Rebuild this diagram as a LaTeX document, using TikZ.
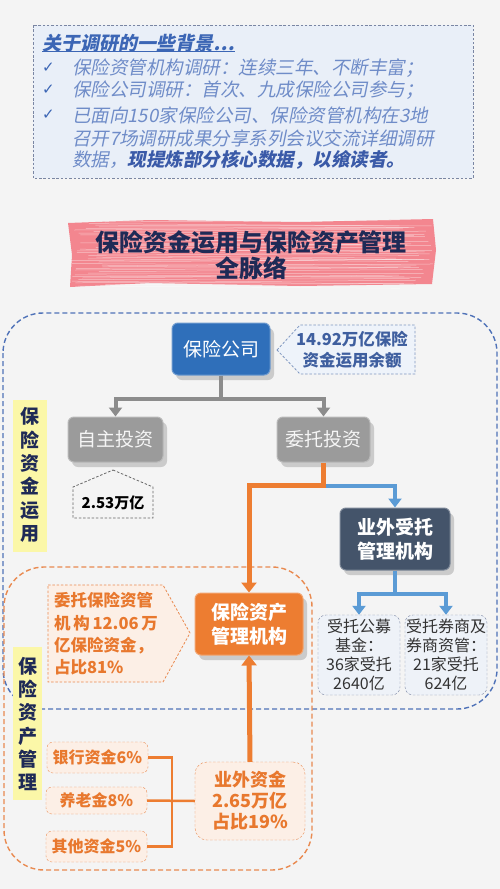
\documentclass[tikz,border=0pt]{standalone}
\usepackage{fontspec}
\setmainfont{Noto Sans CJK SC}
\newfontfamily\cjkit[FakeSlant=0.2]{Noto Sans CJK SC}
\newfontfamily\symf{DejaVu Sans}
\usetikzlibrary{arrows.meta,shadows,calc}
\definecolor{bgc}{HTML}{F4F4F4}
\definecolor{topfill}{HTML}{E9EFF8}
\definecolor{topline}{HTML}{7A86A3}
\definecolor{headc}{HTML}{3C66B5}
\definecolor{bodyc}{HTML}{6F8CC8}
\definecolor{boldc}{HTML}{3A5AA8}
\definecolor{pinkc}{HTML}{F3868F}
\definecolor{navy}{HTML}{1F2A56}
\definecolor{bluedashc}{HTML}{4F72B8}
\definecolor{orangedashc}{HTML}{E98A50}
\definecolor{yellowc}{HTML}{FBF7A8}
\definecolor{gsblue}{HTML}{2F6FBA}
\definecolor{graynode}{HTML}{9B9B9B}
\definecolor{slate}{HTML}{44546A}
\definecolor{orangec}{HTML}{ED7D31}
\definecolor{peach}{HTML}{FCEFE6}
\definecolor{orangetxt}{HTML}{E8782E}
\definecolor{blueline}{HTML}{5B9BD5}
\definecolor{grayline}{HTML}{8C8C8C}
\definecolor{calloutfill}{HTML}{EEF3FA}
\definecolor{calloutline}{HTML}{7F97C0}
\definecolor{calltxt}{HTML}{3F5F9F}
\definecolor{smallfill}{HTML}{EEF2F8}
\begin{document}
\begin{tikzpicture}[x=1pt,y=-1pt,
  bodytxt/.style={anchor=west,inner sep=0pt,text=bodyc,font=\cjkit\fontsize{18.5}{20}\selectfont},
  chk/.style={anchor=west,inner sep=0pt,text=headc,font=\symf\bfseries\fontsize{15}{16}\selectfont},
  mainbox/.style={rounded corners=6pt,inner sep=0pt,align=center,
    drop shadow={opacity=0.35,shadow xshift=4pt,shadow yshift=-5pt}},
  graybox/.style={mainbox,fill=graynode,draw=graynode!70!white,line width=1pt,text=white!92!gray,font=\fontsize{19}{22}\selectfont,minimum width=95pt,minimum height=45pt},
  fdash/.style={dash pattern=on 2.5pt off 1.8pt},
  smallbox/.style={rounded corners=8pt,draw=topline,fdash,fill=smallfill,inner sep=0pt,align=center,text=black!80,font=\fontsize{16}{19}\selectfont,minimum width=82pt,minimum height=80pt},
  peachbox/.style={rounded corners=6pt,draw=orangedashc,fdash,fill=peach,inner sep=0pt,align=center,text=orangetxt,font=\bfseries\fontsize{16}{19}\selectfont},
  bigdash/.style={dash pattern=on 5pt off 3pt,line width=1.4pt,rounded corners=40pt},
  gline/.style={draw=grayline,line width=4pt,-{Triangle[length=9pt,width=13pt]}},
  oline/.style={draw=orangec,line width=5pt,-{Triangle[length=10pt,width=15pt]}},
  bline/.style={draw=blueline,line width=4pt,-{Triangle[length=9pt,width=13pt]}},
  thinol/.style={draw=orangec,line width=2.5pt}
]
\fill[bgc] (0,0) rectangle (500,889);
\useasboundingbox (0,0) rectangle (500,889);

% ---------- top box
\draw[topline,fdash,fill=topfill,line width=0.8pt] (33,25) rectangle (473,178);
\node[anchor=west,inner sep=0pt,text=headc,font=\cjkit\bfseries\fontsize{19}{20}\selectfont] (hd) at (42,43) {关于调研的一些背景…};
\draw[headc,line width=0.8pt] ($(hd.south west)+(0,-1)$) -- ($(hd.south east)+(0,-1)$);
\node[chk] (k1) at (42,68) {✓};
\node[chk] (k2) at (42,90) {✓};
\node[chk] (k3) at (42,115) {✓};
\node[bodytxt] (l1) at (72,68) {保险资管机构调研：连续三年、不断丰富；};
\node[bodytxt] (l2) at (72,90) {保险公司调研：首次、九成保险公司参与；};
\node[bodytxt] (l3) at (72,115) {已面向150家保险公司、保险资管机构在3地};
\node[bodytxt] (l4) at (72,138) {召开7场调研成果分享系列会议交流详细调研};
\node[bodytxt] (l5) at (72,160) {数据，\textcolor{boldc}{\bfseries 现提炼部分核心数据，以飨读者。}};

% ---------- title band
\fill[pinkc] (68,223) -- (150,220) -- (300,222) -- (433,219) -- (436,250) -- (432,284) -- (300,286) -- (150,283) -- (70,287) -- (72,255) -- cycle;
\pgfmathsetseed{7}
\foreach \i in {0,...,40}{
  \pgfmathsetmacro\ya{222+\i*1.6}
  \pgfmathsetmacro\xa{70+rnd*40}
  \pgfmathsetmacro\xb{395+rnd*38}
  \pgfmathsetmacro\yb{\ya+rnd*6-3}
  \draw[white,opacity=0.5,line width=0.5pt] (\xa,\ya) -- (\xb,\yb);
}
\node[inner sep=0pt,align=center,text=navy,font=\bfseries\fontsize{24}{26}\selectfont] (ttl) at (251,255) {保险资金运用与保险资产管理\\全脉络};

% ---------- dashed regions
\draw[bluedashc,bigdash] (3,313) rectangle (497,709);
\draw[orangedashc,bigdash] (4,567) rectangle (312,870);

% ---------- yellow labels
\fill[yellowc] (13,400) rectangle (47,552);
\node[inner sep=0pt,align=center,text=navy,font=\bfseries\fontsize{19}{23.4}\selectfont] (ya) at (30,475) {保\\险\\资\\金\\运\\用};
\fill[yellowc] (13,647) rectangle (42,800);
\node[inner sep=0pt,align=center,text=navy,font=\bfseries\fontsize{19}{23.2}\selectfont] (yb) at (27.5,724) {保\\险\\资\\产\\管\\理};

% ---------- main nodes
\node[mainbox,fill=gsblue,draw=gsblue!70!white,line width=1pt,text=white,font=\fontsize{19}{22}\selectfont,minimum width=98pt,minimum height=52pt] (gs) at (221,349) {保险公司};
\node[graybox] (zz) at (115.5,439.5) {自主投资};
\node[graybox,minimum width=93pt] (wt) at (323.5,439.5) {委托投资};
\node[mainbox,fill=slate,draw=slate!70!white,line width=1pt,text=white,font=\bfseries\fontsize{19}{24}\selectfont,minimum width=110pt,minimum height=62pt] (yw) at (395,539) {业外受托\\管理机构};
\node[mainbox,fill=orangec,draw=orangec!70!white,line width=1pt,text=white,font=\bfseries\fontsize{19}{24}\selectfont,minimum width=108pt,minimum height=62pt] (bx) at (249,624) {保险资产\\管理机构};
\node[smallbox] (gm) at (359,655) {受托公募\\基金：\\36家受托\\2640亿};
\node[smallbox] (qs) at (446,655) {受托券商及\\券商资管：\\21家受托\\624亿};
\node[peachbox,rounded corners=12pt,minimum width=110pt,minimum height=78pt,font=\bfseries\fontsize{18}{21}\selectfont] (yz) at (250,801) {业外资金\\2.65万亿\\占比19\%};
\node[peachbox,minimum width=101pt,minimum height=31pt] (yh) at (97.5,757.5) {银行资金6\%};
\node[peachbox,minimum width=101pt,minimum height=27pt] (yl) at (96.5,800.5) {养老金8\%};
\node[peachbox,minimum width=101pt,minimum height=31pt] (qt) at (96.5,846.5) {其他资金5\%};

% ---------- callouts
\draw[calloutline,fdash,fill=calloutfill,line width=0.8pt] (277,350) -- (300,325) -- (415,325) -- (415,374) -- (300,374) -- cycle;
\node[inner sep=0pt,align=center,text=calltxt,font=\bfseries\fontsize{16.5}{21}\selectfont] (c1) at (352,350) {14.92万亿保险\\资金运用余额};
\draw[black!60,fdash,fill=bgc,line width=0.8pt] (113,470) -- (153,487) -- (153,518) -- (73,518) -- (73,487) -- cycle;
\node[inner sep=0pt,text=black,font=\bfseries\fontsize{15}{18}\selectfont] (c2) at (113,503) {2.53万亿};
\draw[orangedashc,fdash,fill=peach,line width=0.8pt] (48,585) -- (163,585) -- (190,633) -- (163,682) -- (48,682) -- cycle;
\node[inner sep=0pt,align=left,text=orangetxt,font=\bfseries\fontsize{16.5}{22.3}\selectfont] (c3) at (106,634) {委托保险资管\\机\,构\,12.06\,万\\亿保险资金，\\占比81\%};

% ---------- connectors
\draw[draw=grayline,line width=4pt] (gs.south) -- ++(0,23) coordinate (gj);
\draw[gline] ($(gj)+(2,0)$) -| (zz.north);
\draw[gline] ($(gj)-(2,0)$) -| (wt.north);
\draw[draw=orangec,line width=5pt] (wt.south) -- ++(0,23) coordinate (oj);
\draw[oline] ($(oj)+(2.5,0)$) -| (bx.north);
\draw[bline] ($(oj)+(2.5,0)$) -| (yw.north);
\draw[draw=blueline,line width=4pt] (yw.south) -- ++(0,23) coordinate (bj);
\draw[bline] ($(bj)+(2,0)$) -| (gm.north);
\draw[bline] ($(bj)-(2,0)$) -| (qs.north);
\draw[oline] (yz.north) -- (bx.south);
\draw[thinol] (yh.east) -- ++(24,0) |- (qt.east);
\draw[thinol] (yl.east) -- (yz.west);
\end{tikzpicture}
\end{document}
